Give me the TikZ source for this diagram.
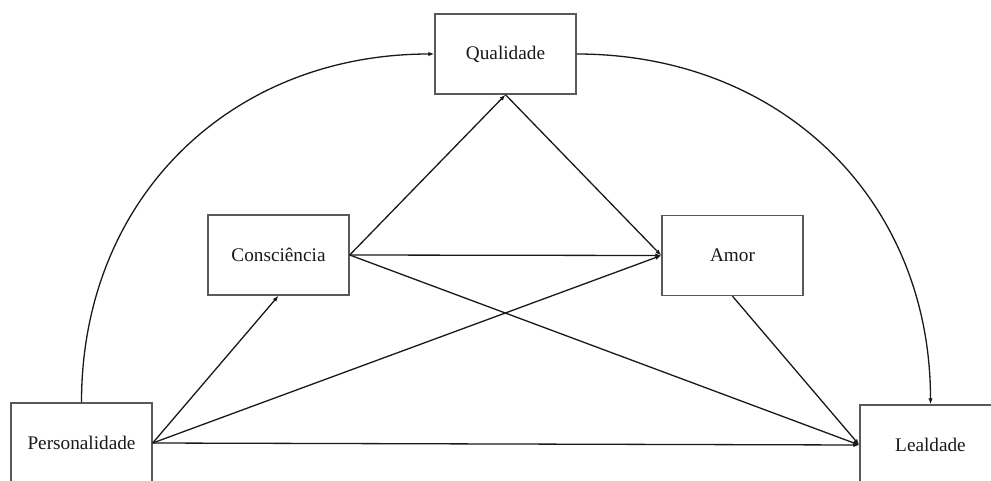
\documentclass[tikz,border=0pt]{standalone}
\usepackage{fontspec}
\setmainfont{Liberation Serif}
\usetikzlibrary{arrows.meta}
\begin{document}
\begin{tikzpicture}[x=1pt,y=-1pt,
  box/.style={draw=black!65,line width=1.4pt,minimum width=141pt,minimum height=80pt,inner sep=0pt,font=\fontsize{19.25pt}{22pt}\selectfont,text=black!90},
  arr/.style={draw=black!90,line width=1.3pt,-{Latex[length=6pt,width=4.5pt]}}]
\useasboundingbox (0,0) rectangle (991,480);
\clip (0,0) rectangle (991,480);
\fill[white] (0,0) rectangle (991,480);
\node[box] (Q) at (505.5,54) {Qualidade};
\node[box] (C) at (278.5,255) {Consciência};
\node[box] (A) at (732.5,255.5) {Amor};
\node[box] (P) at (81.5,443) {Personalidade};
\node[box] (L) at (930.5,445) {Lealdade};
\draw[arr] (P.east) -- (C.south);
\draw[arr] (P.east) -- (A.west);
\draw[arr] (P.east) -- (L.west);
\draw[arr] (C.east) -- (A.west);
\draw[arr] (C.east) -- (Q.south);
\draw[arr] (C.east) -- (L.west);
\draw[arr] (Q.south) -- (A.west);
\draw[arr] (A.south) -- (L.west);
\draw[arr] (P.north) to[out=90,in=180,looseness=1.05] (Q.west);
\draw[arr] (Q.east) to[out=0,in=90,looseness=1.05] (L.north);
\end{tikzpicture}
\end{document}
